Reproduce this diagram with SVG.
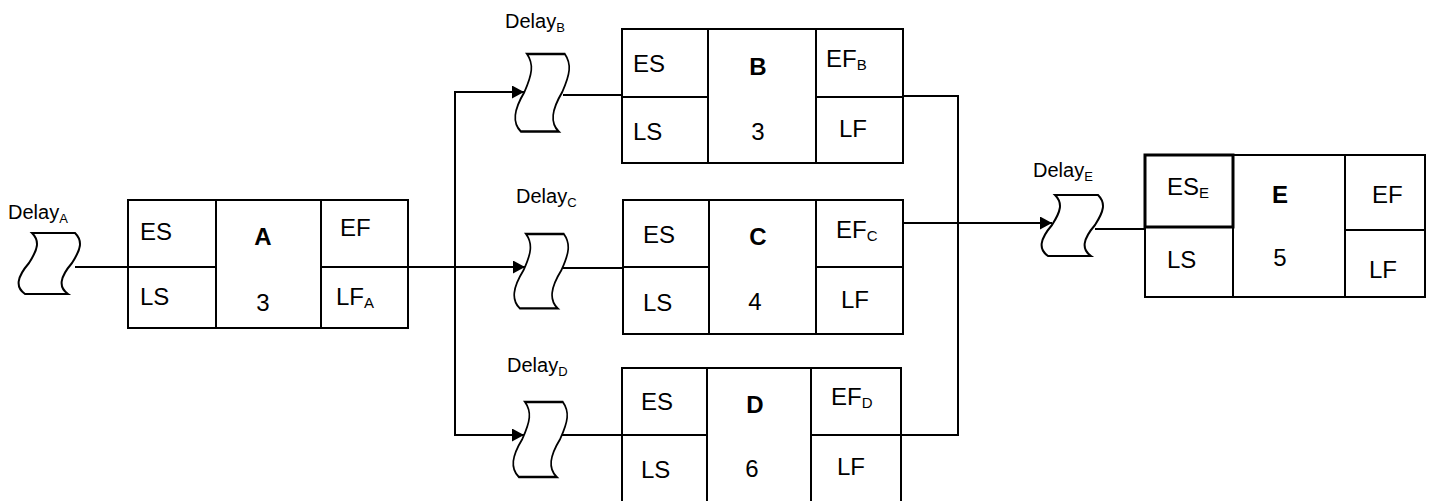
<svg xmlns="http://www.w3.org/2000/svg" width="1429" height="501" viewBox="0 0 1429 501">
<style>
.bx{fill:none;stroke:#000;stroke-width:2}
.ln{fill:none;stroke:#000;stroke-width:2}
.dl{fill:#fff;stroke:#000;stroke-width:2}
text{font-family:"Liberation Sans",Arial,sans-serif;fill:#000}
.t{font-size:24px}
.c{font-size:24px;text-anchor:middle}
.b{font-weight:bold}
.lab{font-size:20px}
.s{font-size:15px}
.ls{font-size:13px}
</style>
<defs>
<path id="wave" d="M0,0 C8,8 6,16 -3,30 C-15,44 -17,54 -7,61 L36,61 C26,54 28,44 40,30 C49,16 51,8 43,0 Z"/>
<marker id="ah" markerUnits="userSpaceOnUse" markerWidth="13" markerHeight="14" refX="12" refY="6.5" orient="auto">
<path d="M0,0 L12,6.5 L0,13 Z" fill="#000"/>
</marker>
</defs>
<rect width="1429" height="501" fill="#fff"/>
<g id="connectors">
<line class="ln" x1="75" y1="267" x2="128" y2="267"/>
<line class="ln" x1="408" y1="267" x2="525" y2="267" marker-end="url(#ah)"/>
<polyline class="ln" points="524,92 455,92 455,435 524,435"/>
<line class="ln" x1="455" y1="92" x2="524" y2="92" marker-end="url(#ah)"/>
<line class="ln" x1="455" y1="435" x2="524" y2="435" marker-end="url(#ah)"/>
<line class="ln" x1="563" y1="95" x2="622" y2="95"/>
<line class="ln" x1="563" y1="268" x2="623" y2="268"/>
<line class="ln" x1="562" y1="435" x2="622" y2="435"/>
<polyline class="ln" points="903,96 958,96 958,435 901,435"/>
<line class="ln" x1="903" y1="223" x2="1052" y2="223" marker-end="url(#ah)"/>
<line class="ln" x1="1095" y1="229" x2="1145" y2="229"/>
</g>
<g id="delayA">
<use href="#wave" class="dl" transform="translate(32,233)"/>
<text class="lab" x="8" y="219">Delay<tspan class="ls" dy="4">A</tspan></text>
</g>
<g id="delayB">
<use href="#wave" class="dl" transform="translate(527,54) scale(0.88,1.27)" style="stroke-width:1.9"/>
<text class="lab" x="505" y="28">Delay<tspan class="ls" dy="4">B</tspan></text>
</g>
<g id="delayC">
<use href="#wave" class="dl" transform="translate(526,234) scale(0.88,1.22)" style="stroke-width:1.9"/>
<text class="lab" x="516" y="203">Delay<tspan class="ls" dy="4">C</tspan></text>
</g>
<g id="delayD">
<use href="#wave" class="dl" transform="translate(525,402) scale(0.88,1.23)" style="stroke-width:1.9"/>
<text class="lab" x="507" y="372">Delay<tspan class="ls" dy="4">D</tspan></text>
</g>
<g id="delayE">
<use href="#wave" class="dl" transform="translate(1055,195)"/>
<text class="lab" x="1033" y="177">Delay<tspan class="ls" dy="4">E</tspan></text>
</g>
<g id="nodeA">
<rect class="bx" x="128" y="200" width="280" height="128"/>
<line class="bx" x1="216" y1="200" x2="216" y2="328"/>
<line class="bx" x1="321" y1="200" x2="321" y2="328"/>
<line class="bx" x1="128" y1="267" x2="216" y2="267"/>
<line class="bx" x1="321" y1="267" x2="408" y2="267"/>
<text class="t" x="140" y="240">ES</text>
<text class="c b" x="263" y="245">A</text>
<text class="t" x="340" y="236">EF</text>
<text class="t" x="140" y="305">LS</text>
<text class="c" x="263" y="311">3</text>
<text class="t" x="336" y="305">LF<tspan class="s" dy="3">A</tspan></text>
</g>
<g id="nodeB">
<rect class="bx" x="622" y="29" width="281" height="134"/>
<line class="bx" x1="708" y1="29" x2="708" y2="163"/>
<line class="bx" x1="816" y1="29" x2="816" y2="163"/>
<line class="bx" x1="622" y1="97" x2="708" y2="97"/>
<line class="bx" x1="816" y1="97" x2="903" y2="97"/>
<text class="t" x="633" y="72">ES</text>
<text class="c b" x="758" y="75">B</text>
<text class="t" x="826" y="67">EF<tspan class="s" dy="3">B</tspan></text>
<text class="t" x="633" y="140">LS</text>
<text class="c" x="758" y="140">3</text>
<text class="t" x="839" y="137">LF</text>
</g>
<g id="nodeC">
<rect class="bx" x="623" y="200" width="280" height="134"/>
<line class="bx" x1="709" y1="200" x2="709" y2="334"/>
<line class="bx" x1="816" y1="200" x2="816" y2="334"/>
<line class="bx" x1="623" y1="267" x2="709" y2="267"/>
<line class="bx" x1="816" y1="267" x2="903" y2="267"/>
<text class="t" x="643" y="243">ES</text>
<text class="c b" x="758" y="245">C</text>
<text class="t" x="836" y="238">EF<tspan class="s" dy="3">C</tspan></text>
<text class="t" x="643" y="311">LS</text>
<text class="c" x="755" y="310">4</text>
<text class="t" x="841" y="308">LF</text>
</g>
<g id="nodeD">
<rect class="bx" x="622" y="368" width="279" height="140"/>
<line class="bx" x1="707" y1="368" x2="707" y2="508"/>
<line class="bx" x1="811" y1="368" x2="811" y2="508"/>
<line class="bx" x1="622" y1="435" x2="707" y2="435"/>
<line class="bx" x1="811" y1="435" x2="901" y2="435"/>
<text class="t" x="641" y="410">ES</text>
<text class="c b" x="755" y="413">D</text>
<text class="t" x="831" y="405">EF<tspan class="s" dy="3">D</tspan></text>
<text class="t" x="641" y="478">LS</text>
<text class="c" x="752" y="477">6</text>
<text class="t" x="837" y="475">LF</text>
</g>
<g id="nodeE">
<rect class="bx" x="1145" y="155" width="280" height="142"/>
<line class="bx" x1="1233" y1="155" x2="1233" y2="297"/>
<line class="bx" x1="1345" y1="155" x2="1345" y2="297"/>
<rect x="1145" y="155" width="88" height="72" fill="none" stroke="#000" stroke-width="3"/>
<line class="bx" x1="1345" y1="230" x2="1425" y2="230"/>
<text class="t" x="1167" y="195">ES<tspan class="s" dy="3">E</tspan></text>
<text class="c b" x="1280" y="203">E</text>
<text class="t" x="1372" y="203">EF</text>
<text class="t" x="1167" y="268">LS</text>
<text class="c" x="1280" y="266">5</text>
<text class="t" x="1369" y="278">LF</text>
</g>
</svg>
